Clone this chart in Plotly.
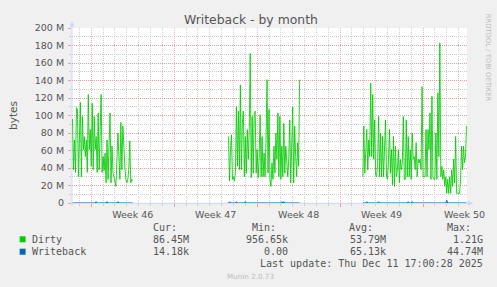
import pandas as pd
import plotly.graph_objects as go

# ---------------- data (values in MB, 2-hour samples) ----------------
dirty_c1 = [96, 38, 72, 35, 109, 107, 30, 92, 115, 30, 99, 61, 76, 53, 72, 35, 124, 61, 84, 42,
            114, 38, 99, 61, 76, 35, 103, 38, 92, 124, 35, 53, 37, 57, 23, 72, 27, 57, 103, 23,
            65, 35, 30, 23, 19, 50, 80, 53, 27, 92, 38, 88, 53, 42, 27, 23, 27, 38, 71, 23, 27, 25]
dirty_c2 = [76, 25, 61, 78, 27, 30, 25, 34, 110, 42, 105, 38, 135, 38, 91, 105, 30, 76, 34, 84,
            50, 84, 171, 29, 99, 34, 103, 105, 34, 61, 29, 50, 101, 30, 76, 30, 57, 30, 73, 141,
            34, 107, 27, 19, 46, 27, 65, 34, 80, 50, 103, 30, 99, 27, 65, 30, 91, 34, 65, 42,
            30, 50, 95, 23, 72, 110, 23, 88, 53, 30, 69, 42, 141]
dirty_c3 = [30, 88, 34, 57, 84, 38, 72, 53, 137, 53, 124, 50, 95, 32, 30, 46, 99, 30, 80, 30,
            76, 30, 65, 95, 30, 27, 50, 84, 34, 61, 21, 76, 19, 65, 30, 38, 61, 23, 50, 38,
            46, 99, 27, 27, 95, 30, 76, 30, 61, 27, 80, 50, 53, 38, 69, 30, 50, 46, 50, 38,
            133, 30, 30, 30, 84, 30, 84, 61, 103, 27, 122, 30, 27, 27, 80, 27, 126,
            53, 183, 30, 42, 27, 38, 19, 30, 11, 27, 11, 30, 11, 38, 19, 50, 23, 76, 11,
            11, 11, 11, 27, 65, 38, 65, 46, 53, 88]

wb_c1 = [0] * 62
for i in (24, 35, 46):
    wb_c1[i] = 1.5
wb_c2 = [0] * 73
for i in (1, 8, 17, 54, 56):
    wb_c2[i] = 1.5
wb_c3 = [0] * 106
for i in (4, 16, 46, 50):
    wb_c3[i] = 1.5
wb_c3[85] = 3.0

cluster_starts = ["2025-11-08 10:00", "2025-11-21 14:00", "2025-12-02 22:00"]
range_start = "2025-11-08 09:00"
range_end = "2025-12-11 17:00"

week_starts = ["2025-11-10", "2025-11-17", "2025-11-24", "2025-12-01", "2025-12-08"]
week_label_pos = ["2025-11-13 12:00", "2025-11-20 12:00", "2025-11-27 12:00",
                  "2025-12-04 12:00", "2025-12-11 12:00"]
week_labels = ["Week 46", "Week 47", "Week 48", "Week 49", "Week 50"]

ytick_vals = [0, 20, 40, 60, 80, 100, 120, 140, 160, 180, 200]
ytick_text = ["0", "20 M", "40 M", "60 M", "80 M", "100 M", "120 M", "140 M", "160 M", "180 M", "200 M"]
yminor_vals = [10, 30, 50, 70, 90, 110, 130, 150, 170, 190]

legend_rows = [
    ("Dirty", "#00CC00", ["86.45M", "956.65k", "53.79M", "1.21G"]),
    ("Writeback", "#0066B3", ["14.18k", "0.00", "65.13k", "44.74M"]),
]
legend_headers = ["Cur:", "Min:", "Avg:", "Max:"]

# ---------------- build series ----------------
def build(clusters):
    xs, ys = [], []
    for k, (start, vals) in enumerate(zip(cluster_starts, clusters)):
        t = pd.date_range(start, periods=len(vals), freq="2h")
        xs += list(t)
        ys += [v * 1e6 for v in vals]
        if k < len(clusters) - 1:
            xs.append(t[-1] + pd.Timedelta(hours=2))
            ys.append(None)
    return xs, ys

dx, dy = build([dirty_c1, dirty_c2, dirty_c3])
wx, wy = build([wb_c1, wb_c2, wb_c3])

# daily minor grid positions (all days in range except Mondays)
all_days = pd.date_range("2025-11-09", "2025-12-11", freq="D")
week_set = set(pd.to_datetime(week_starts))
xminor_vals = [d.strftime("%Y-%m-%d") for d in all_days if d not in week_set]

# ---------------- figure ----------------
W, H = 497, 287
L, T, PW, PH = 67, 28, 400, 175

def px(x):
    return (x - L) / PW

def py(y):
    return (T + PH - y) / PH

RED = "rgb(228,160,160)"
RED_V = "rgb(236,178,178)"
GRAY = "rgb(205,205,205)"
AX = "#CFD6F8"
FONT = "DejaVu Sans"
MONO = "DejaVu Sans Mono"
TXT = "#555555"

fig = go.Figure()
fig.add_trace(go.Scatter(x=dx, y=dy, mode="lines", line=dict(color="#00CC00", width=0.85),
                         connectgaps=False, showlegend=False, hoverinfo="skip"))
fig.add_trace(go.Scatter(x=wx, y=wy, mode="lines", line=dict(color="#0066B3", width=1),
                         connectgaps=False, showlegend=False, hoverinfo="skip"))
fig.add_trace(go.Scatter(x=[range_start, range_end], y=[None, None], xaxis="x2",
                         showlegend=False, hoverinfo="skip"))

fig.update_layout(
    width=W, height=H, autosize=False,
    margin=dict(l=L, r=W - L - PW, t=T, b=H - T - PH, pad=0),
    paper_bgcolor="#F0F0F0", plot_bgcolor="#FFFFFF",
    font=dict(family=FONT, color=TXT, size=9.5),
    xaxis=dict(
        type="date", range=[range_start, range_end],
        tickmode="array", tickvals=week_starts, showticklabels=False,
        showgrid=True, gridcolor=RED_V, griddash="1px,1px", gridwidth=1,
        ticks="outside", ticklen=3, tickcolor=RED, tickwidth=1,
        minor=dict(tickmode="array", tickvals=xminor_vals, showgrid=True, gridcolor=GRAY,
                   griddash="1px,1px", gridwidth=1, ticks="outside", ticklen=2,
                   tickcolor=GRAY),
        showline=False, zeroline=False, layer="below traces", fixedrange=True,
    ),
    xaxis2=dict(
        type="date", range=[range_start, range_end], overlaying="x", anchor="y",
        side="bottom", tickmode="array", tickvals=week_label_pos, ticktext=week_labels,
        showgrid=False, ticks="", showline=False, zeroline=False,
        tickfont=dict(family=FONT, size=9.5, color=TXT), ticklabelstandoff=4,
    ),
    yaxis=dict(
        range=[0, 200e6], tickmode="array", tickvals=[v * 1e6 for v in ytick_vals],
        ticktext=ytick_text, showgrid=True, gridcolor=RED, griddash="1px,1px",
        ticks="outside", ticklen=3, tickcolor=RED,
        minor=dict(tickmode="array", tickvals=[v * 1e6 for v in yminor_vals],
                   showgrid=True, gridcolor=GRAY, griddash="1px,1px",
                   ticks="outside", ticklen=2, tickcolor=GRAY),
        showline=False, zeroline=False, layer="below traces",
        tickfont=dict(family=FONT, size=9.5, color=TXT), ticklabelstandoff=2,
        title=dict(text="bytes", font=dict(family=FONT, size=10.5, color=TXT), standoff=15),
    ),
)

shapes = []
# axis lines and arrows
shapes.append(dict(type="line", xref="paper", yref="paper", x0=px(67), x1=px(67),
                   y0=py(206), y1=py(24), line=dict(color=AX, width=1), layer="below"))
shapes.append(dict(type="line", xref="paper", yref="paper", x0=px(64), x1=px(469),
                   y0=py(203.3), y1=py(203.3), line=dict(color=AX, width=1), layer="below"))
shapes.append(dict(type="path", xref="paper", yref="paper",
                   path=f"M {px(64.5)},{py(26.5)} L {px(67)},{py(21)} L {px(69.5)},{py(26.5)} Z",
                   fillcolor=AX, line=dict(color=AX, width=0), layer="below"))
shapes.append(dict(type="path", xref="paper", yref="paper",
                   path=f"M {px(468)},{py(200.8)} L {px(473.5)},{py(203.3)} L {px(468)},{py(205.8)} Z",
                   fillcolor=AX, line=dict(color=AX, width=0), layer="below"))

annotations = []
def ann(text, x, y, xanchor="left", size=10, family=MONO, color=TXT, angle=0):
    annotations.append(dict(text=text, xref="paper", yref="paper", x=px(x), y=py(y),
                            xanchor=xanchor, yanchor="middle", showarrow=False,
                            borderpad=0, borderwidth=0, textangle=angle,
                            font=dict(family=family, size=size, color=color)))

ann("Writeback - by month", 248, 19, xanchor="center", size=12.4, family=FONT)
ann("RRDTOOL / TOBI OETIKER", 488.5, 58, xanchor="center", size=6.8, family=FONT,
    color="#BBBBBB", angle=90)

header_left = [149, 249, 348, 447]
value_right = [185.5, 285.5, 384.5, 483]
for h, xl in zip(legend_headers, header_left):
    ann(h, xl, 227.3)
row_y = [239.3, 251.7]
for (name, color, vals), yy in zip(legend_rows, row_y):
    shapes.append(dict(type="rect", xref="paper", yref="paper", x0=px(14), x1=px(20),
                       y0=py(yy + 3), y1=py(yy - 3), fillcolor=color,
                       line=dict(width=0), layer="above"))
    ann(name, 26, yy)
    for v, xr in zip(vals, value_right):
        ann(v, xr, yy, xanchor="right")
ann("Last update: Thu Dec 11 17:00:28 2025", 483, 263.3, xanchor="right")
ann("Munin 2.0.73", 248, 276, xanchor="center", size=7.2, family=FONT, color="#BBBBBB")

fig.update_layout(shapes=shapes, annotations=annotations)
fig.write_html("out.html")
